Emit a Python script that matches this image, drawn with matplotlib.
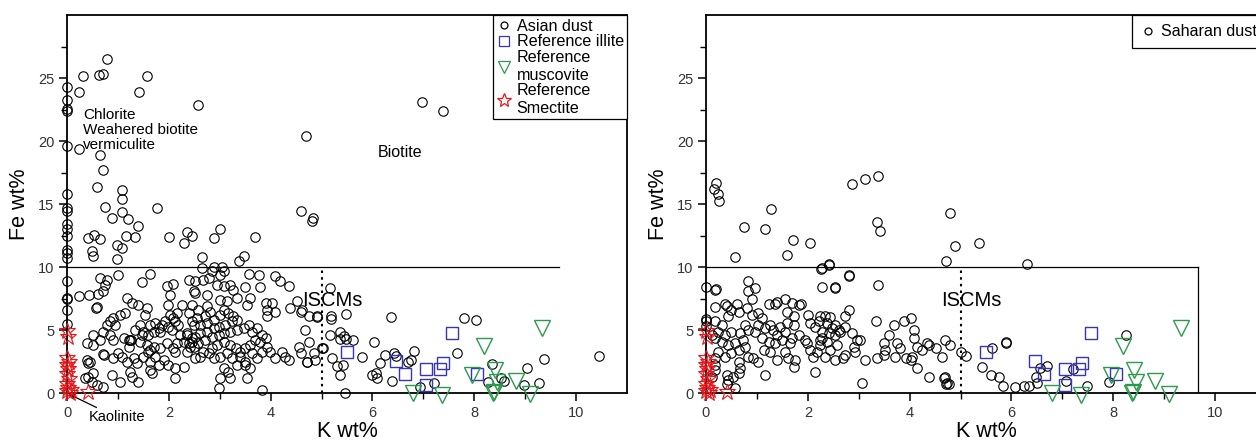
import matplotlib

matplotlib.use("Agg")
import matplotlib.pyplot as plt
import numpy as np
from matplotlib.lines import Line2D

plt.rcParams["font.family"] = ["Liberation Sans", "DejaVu Sans"]

# ---- Asian dust (left panel), (K wt%, Fe wt%) ----
asian_dust = [
    # upper part, Fe > 10
    (0.0, 24.3), (0.0, 23.3), (0.0, 22.6), (0.0, 22.4), (0.24, 23.9), (0.31, 25.2),
    (0.62, 25.3), (0.71, 25.35), (0.78, 26.5), (1.42, 23.9), (1.57, 25.2), (2.58, 22.9),
    (4.70, 20.4), (6.97, 23.1), (7.38, 22.4), (0.0, 19.6), (0.24, 19.35), (0.64, 18.9),
    (0.71, 17.7), (0.58, 16.4), (1.08, 16.1), (1.08, 15.4), (1.09, 14.4), (0.75, 14.8),
    (1.77, 14.7), (0.0, 15.8), (0.0, 14.7), (0.0, 14.5), (4.59, 14.45), (4.84, 13.9),
    (0.88, 13.9), (1.19, 13.8), (0.0, 13.4), (0.0, 13.0), (0.0, 12.46), (0.0, 11.4),
    (0.0, 11.15), (0.0, 10.7), (0.41, 12.3), (0.54, 12.6), (0.65, 12.25), (0.49, 11.3),
    (0.52, 10.9), (1.40, 13.3), (0.98, 11.8), (1.08, 11.5), (1.16, 12.45), (1.34, 12.4),
    (0.98, 10.66), (2.01, 12.4), (2.29, 11.9), (2.35, 12.8), (2.45, 12.46), (2.88, 12.3),
    (3.01, 13.0), (3.70, 12.4), (4.81, 13.7), (2.65, 10.8), (3.37, 10.5), (3.47, 10.9),
    # K < 2.5, Fe < 10
    (0.0, 8.88), (0.0, 7.6), (0.0, 7.45), (0.0, 6.6), (0.0, 5.5),
    (0.65, 9.15), (0.78, 9.01), (0.75, 8.62), (1.01, 9.36), (1.47, 8.83), (1.63, 9.46),
    (1.96, 8.48), (2.08, 8.67), (2.03, 7.82), (2.39, 9.01), (2.49, 8.09),
    (0.24, 7.69), (0.44, 7.77), (0.60, 7.87), (0.71, 8.09), (0.57, 6.76), (0.58, 6.85),
    (1.17, 7.55), (1.27, 7.16), (1.40, 7.02), (1.57, 6.76), (1.53, 6.23),
    (1.14, 6.36), (1.04, 6.23), (0.91, 5.96), (0.85, 5.70), (0.95, 5.43), (0.78, 5.43),
    (1.99, 7.02), (2.03, 6.23), (2.09, 5.96), (2.16, 6.36), (2.26, 7.02), (2.39, 6.36),
    (2.45, 5.70), (1.63, 5.43), (1.73, 5.57), (1.80, 5.17), (1.86, 5.43), (1.93, 5.70),
    (1.99, 5.30), (2.06, 5.03), (2.13, 5.70), (2.19, 5.43), (1.83, 4.90), (1.70, 4.90),
    (1.60, 4.64), (1.44, 5.43), (1.34, 5.03), (1.50, 4.90), (2.36, 4.64), (2.45, 4.37),
    (2.39, 3.97), (2.49, 3.71), (2.36, 3.31), (2.16, 3.97), (2.09, 3.58), (1.96, 3.97),
    (1.83, 3.58), (1.70, 3.71), (1.60, 3.31), (1.24, 4.24), (1.26, 4.20), (0.72, 3.05),
    (0.70, 3.08), (0.91, 2.78), (1.01, 3.18), (1.08, 2.91), (1.18, 2.51), (1.31, 2.78),
    (1.37, 2.38), (1.50, 2.91), (1.63, 2.51), (1.73, 2.91), (1.80, 2.25), (1.90, 2.65),
    (1.99, 2.25), (2.13, 3.31), (2.13, 1.98), (2.13, 1.19), (2.29, 2.12), (1.24, 1.72),
    (1.27, 1.32), (1.40, 0.92), (1.04, 0.92), (0.88, 1.45), (1.63, 1.85), (1.67, 1.59),
    (0.35, 1.19), (0.42, 1.32), (0.52, 1.59), (0.49, 0.92), (0.58, 0.66), (0.71, 0.53),
    (0.39, 2.65), (0.42, 2.38), (0.45, 2.51), (0.39, 3.97), (0.52, 4.64), (0.71, 4.90),
    (0.65, 4.24), (0.52, 3.84), (0.85, 4.64), (0.91, 4.24), (1.11, 4.37), (1.21, 4.24),
    (1.21, 3.71), (1.47, 4.64), (1.44, 4.11), (1.57, 3.84), (1.63, 3.44), (2.22, 4.64),
    (2.29, 4.11), (2.35, 4.77), (2.42, 3.71),
    # 2.4 < K < 5
    (2.65, 9.94), (2.88, 9.99), (3.04, 9.99), (2.85, 9.68), (3.01, 9.41), (3.08, 9.68),
    (2.52, 8.88), (2.68, 9.01), (2.78, 9.15), (2.94, 8.62), (3.08, 8.48), (3.21, 8.62),
    (3.27, 8.22), (3.50, 8.40), (3.80, 8.40), (3.57, 9.46), (3.77, 9.36), (4.09, 9.28),
    (4.19, 8.88), (4.36, 8.48), (2.52, 7.95), (2.75, 7.82), (3.01, 7.42), (3.14, 7.29),
    (3.34, 7.55), (3.60, 7.55), (3.54, 7.02), (3.90, 7.16), (4.03, 7.16), (3.93, 6.63),
    (4.09, 6.44), (3.93, 6.10), (4.39, 6.76), (4.52, 7.29), (4.59, 6.49), (4.75, 6.10),
    (4.91, 6.10), (2.45, 7.02), (2.58, 6.63), (2.75, 6.89), (2.81, 6.49), (2.72, 6.10),
    (2.55, 5.96), (2.49, 5.43), (2.62, 5.43), (2.75, 5.57), (2.88, 5.83), (3.01, 6.23),
    (3.08, 6.63), (3.17, 6.36), (3.27, 6.10), (3.34, 5.83), (3.24, 5.70), (3.11, 5.43),
    (2.98, 5.30), (2.88, 5.17), (2.75, 4.90), (2.62, 4.77), (2.52, 4.50), (2.45, 4.11),
    (2.58, 3.97), (2.72, 4.24), (2.85, 4.50), (2.98, 4.64), (3.08, 4.77), (3.21, 4.90),
    (3.34, 5.03), (3.47, 5.17), (3.57, 5.43), (3.63, 4.90), (3.73, 5.17), (3.83, 4.64),
    (3.90, 4.37), (3.80, 4.11), (3.70, 4.24), (3.60, 3.84), (3.50, 3.58), (3.40, 3.31),
    (3.31, 3.58), (3.21, 3.84), (3.08, 4.11), (2.94, 3.84), (2.85, 3.58), (2.78, 3.18),
    (2.68, 3.31), (2.62, 2.91), (2.52, 2.78), (2.88, 2.78), (3.01, 2.91), (3.14, 3.18),
    (3.24, 2.78), (3.40, 2.91), (3.50, 2.51), (3.63, 3.18), (3.73, 2.78), (3.83, 3.31),
    (3.93, 3.71), (3.08, 1.98), (3.17, 1.72), (3.21, 1.19), (3.01, 1.19), (3.34, 2.25),
    (3.50, 2.25), (3.60, 1.98), (3.54, 1.19), (2.98, 0.39), (3.83, 0.26), (3.99, 3.31),
    (4.09, 2.78), (4.22, 3.31), (4.29, 2.91), (4.36, 2.65), (4.55, 3.71), (4.59, 3.18),
    (4.72, 2.51), (4.88, 2.65), (5.01, 3.58), (4.75, 4.11), (4.68, 5.03),
    # K > 4.5
    (5.16, 8.35), (4.62, 6.63), (4.92, 6.04), (5.18, 6.10), (5.19, 5.89), (5.49, 6.28),
    (6.36, 6.02), (7.80, 5.97), (8.03, 5.83), (5.16, 4.64), (5.37, 4.90), (5.44, 4.51),
    (5.36, 4.29), (5.49, 4.29), (5.62, 4.24), (4.85, 3.23), (4.72, 2.52), (5.03, 3.58),
    (5.21, 2.78), (5.30, 2.17), (5.43, 2.25), (5.36, 1.46), (5.47, 0.05), (5.80, 2.86),
    (6.04, 4.11), (6.14, 2.38), (6.24, 3.05), (6.42, 3.23), (6.46, 2.97), (6.69, 2.52),
    (6.75, 2.65), (6.82, 3.37), (6.39, 1.00), (6.00, 1.46), (6.06, 1.59), (6.08, 1.19),
    (6.94, 0.47), (7.21, 0.85), (7.67, 3.23), (8.34, 2.33), (8.26, 0.92), (8.52, 1.19),
    (8.58, 1.00), (9.04, 1.99), (8.97, 0.66), (9.28, 0.79), (9.36, 2.70), (10.45, 2.97),
]

# ---- Saharan dust (right panel) ----
saharan_dust = [
    (0.20, 16.70), (0.16, 16.22), (0.24, 15.82), (0.26, 15.24), (1.28, 14.66), (2.87, 16.62),
    (3.12, 16.97), (3.37, 17.23), (4.80, 14.31), (0.75, 13.18), (1.15, 13.07), (1.70, 12.2),
    (2.05, 11.93), (0.56, 10.79), (1.60, 10.95), (2.26, 9.89), (2.42, 10.26), (3.36, 13.58),
    (3.41, 12.86), (4.72, 10.47), (4.90, 11.72), (5.37, 11.93), (6.31, 10.26),
    (2.28, 8.46), (3.38, 8.56), (2.80, 9.33), (2.54, 8.35),
    (0.0, 8.43), (0.19, 8.27), (0.0, 5.89), (0.0, 5.7), (0.0, 5.35),
    (0.82, 8.93), (0.97, 8.35), (0.83, 8.09), (0.90, 7.50), (0.17, 8.22),
    (1.23, 7.10), (1.36, 7.10), (1.39, 7.23), (1.56, 7.50), (1.69, 7.16), (1.82, 7.02),
    (1.87, 7.08), (0.17, 6.81), (0.37, 7.08), (0.41, 6.89), (0.60, 7.08), (0.50, 6.63),
    (0.64, 6.44), (0.44, 6.10), (0.31, 5.43), (0.17, 5.70), (0.80, 6.76), (0.90, 6.23),
    (1.03, 6.36), (1.10, 5.96), (1.03, 5.43), (1.16, 5.17), (0.97, 4.90), (0.83, 5.03),
    (0.77, 5.43), (0.67, 4.77), (0.50, 4.90), (0.37, 4.64), (0.24, 4.90), (0.17, 4.37),
    (0.11, 4.64), (1.26, 5.43), (1.32, 5.03), (1.39, 4.64), (1.46, 5.30), (1.56, 4.90),
    (1.59, 6.49), (1.72, 6.10), (1.59, 5.57), (1.72, 5.43), (1.82, 4.64), (1.95, 4.24),
    (1.69, 4.37), (1.65, 3.97), (1.10, 4.37), (1.23, 4.11), (1.36, 3.97), (1.49, 4.24),
    (0.31, 4.11), (0.44, 3.84), (0.57, 3.97), (0.73, 4.24), (0.77, 3.71), (0.64, 3.44),
    (0.50, 3.18), (0.37, 2.91), (0.24, 3.31), (0.17, 2.78), (0.17, 2.25), (0.17, 1.85),
    (0.11, 1.32), (0.83, 2.91), (0.93, 2.78), (1.03, 2.51), (1.13, 3.44), (1.26, 3.31),
    (1.39, 2.65), (0.64, 2.51), (0.67, 1.98), (0.64, 1.59), (0.54, 1.32), (0.44, 1.06),
    (0.41, 1.45), (0.57, 0.45), (0.41, 0.71), (1.16, 1.45), (1.56, 3.31), (1.62, 2.78),
    (1.72, 2.12), (1.75, 2.65), (1.98, 3.97), (2.05, 3.44), (2.11, 2.91), (2.18, 3.31),
    (2.24, 3.84), (2.28, 4.37), (2.01, 6.23), (2.05, 5.57), (2.15, 5.30), (2.21, 5.70),
    (2.15, 1.72),
    (2.41, 10.21), (2.28, 9.94), (2.80, 9.36), (2.54, 8.40), (2.80, 6.63), (2.74, 6.17),
    (2.24, 6.10), (2.34, 6.10), (2.44, 6.02), (2.37, 5.57), (2.54, 5.43), (2.61, 5.03),
    (2.47, 5.17), (2.28, 4.90), (2.41, 4.77), (2.54, 4.64), (2.64, 4.90), (2.74, 5.30),
    (2.87, 4.77), (2.24, 4.24), (2.37, 4.11), (2.57, 3.84), (2.44, 3.44), (2.34, 2.91),
    (2.54, 2.65), (2.70, 2.78), (2.74, 3.04), (2.90, 3.71), (2.97, 4.24), (3.03, 4.24),
    (2.93, 3.31), (3.13, 2.65), (3.33, 5.70), (3.06, 0.79), (3.36, 2.78), (3.49, 3.97),
    (3.52, 3.44), (3.49, 3.04), (3.59, 4.64), (3.69, 5.43), (3.75, 3.97), (3.82, 3.58),
    (3.72, 2.91), (3.88, 5.70), (4.02, 5.96), (4.08, 5.03), (3.92, 2.78), (4.02, 2.65),
    (4.05, 2.91), (4.15, 1.98), (4.08, 4.37), (4.15, 3.71), (4.24, 3.44), (4.34, 3.97),
    (4.38, 3.84), (4.51, 3.58), (4.64, 2.91), (4.38, 1.32), (4.70, 4.24), (4.67, 1.19),
    (4.72, 0.71),
    (4.80, 3.84), (4.70, 1.32), (4.74, 0.79), (4.77, 0.74), (5.00, 3.31), (5.10, 2.97),
    (5.43, 2.12), (5.62, 3.58), (5.59, 1.45), (5.75, 1.32), (5.84, 0.58), (5.89, 4.11),
    (5.90, 3.97), (6.06, 0.48), (6.25, 0.61), (6.35, 0.58), (6.48, 1.32), (6.50, 0.85),
    (6.57, 1.99), (6.69, 2.17), (7.08, 1.01), (7.20, 1.91), (7.49, 0.58), (7.92, 0.87),
    (8.25, 4.64),
]

# ---- reference minerals (same in both panels) ----
illite_k = [5.50, 6.47, 6.63, 7.06, 7.33, 7.38, 7.56, 7.05, 8.05]
illite_fe = [3.31, 2.60, 1.57, 1.92, 1.92, 2.44, 4.77, 0.66, 1.51]

muscovite_k = [6.80, 7.37, 8.20, 9.34, 8.41, 8.45, 8.82, 8.37, 8.38, 9.09, 7.96]
muscovite_fe = [0.02, -0.1, 3.76, 5.17, 1.85, 0.86, 0.99, 0.02, 0.12, -0.05, 1.46]

smectite_k = [0.0, 0.02, 0.0, 0.03, 0.0, 0.02, 0.0, 0.03, 0.0, 0.02, 0.0, 0.05, 0.08, 0.41]
smectite_fe = [4.95, 4.5, 2.8, 2.5, 2.25, 1.9, 1.5, 1.1, 0.75, 0.4, 0.15, 0.05, 0.25, 0.13]

ISCM_BOX_K = 9.67
ISCM_BOX_FE = 10
ISCM_SPLIT_K = 5

BLUE = "#3535b5"
GREEN = "#2b9a4e"
RED = "#e8161b"

FIG_W, FIG_H = 12.56, 4.40
AX_BOTTOM = 46.7 / 440
AX_HEIGHT = 378 / 440
AX_WIDTH = 560 / 1256


def draw_panel(ax, dust, box_side):
    k, fe = zip(*dust)
    ax.plot(k, fe, "o", ls="none", mfc="none", mec="black", ms=6.8, mew=0.8,
            clip_on=False, zorder=3)
    ax.plot(illite_k, illite_fe, "s", ls="none", mfc="none", mec=BLUE, ms=8.5,
            mew=1.0, clip_on=False, zorder=4)
    ax.plot(muscovite_k, muscovite_fe, "v", ls="none", mfc="none", mec=GREEN,
            ms=11, mew=1.0, clip_on=False, zorder=4)
    ax.plot(smectite_k, smectite_fe, "*", ls="none", mfc="none", mec=RED, ms=12,
            mew=0.8, clip_on=False, zorder=5)

    ax.plot([0, ISCM_BOX_K], [ISCM_BOX_FE, ISCM_BOX_FE], color="black", lw=0.9, zorder=2)
    if box_side:
        ax.plot([ISCM_BOX_K, ISCM_BOX_K], [0, ISCM_BOX_FE], color="black", lw=0.9, zorder=2)
    ax.plot([ISCM_SPLIT_K, ISCM_SPLIT_K], [0, ISCM_BOX_FE], color="black", lw=1.5,
            ls=(0, (1.2, 2.0)), zorder=2)
    ax.text(4.62, 7.4, "ISCMs", fontsize=14.5, va="center", ha="left", zorder=6)

    ax.set_xlim(0, 11)
    ax.set_ylim(0, 30)
    ax.set_xticks([0, 2, 4, 6, 8, 10])
    ax.set_xticks([1, 3, 5, 7, 9], minor=True)
    ax.set_yticks([0, 5, 10, 15, 20, 25])
    ax.set_yticks([2.5, 7.5, 12.5, 17.5, 22.5, 27.5], minor=True)
    ax.tick_params(which="major", direction="out", length=6, width=1.1,
                   labelsize=10.5, labelcolor="#333333", pad=3)
    ax.tick_params(which="minor", direction="out", length=4, width=1.0)
    for side in ["left", "right", "top", "bottom"]:
        ax.spines[side].set_linewidth(1.3)
    ax.set_xlabel("K wt%", fontsize=15.5, labelpad=1)
    ax.set_ylabel("Fe wt%", fontsize=15.5, labelpad=6)


fig = plt.figure(figsize=(FIG_W, FIG_H), dpi=100)
ax1 = fig.add_axes([67 / 1256, AX_BOTTOM, AX_WIDTH, AX_HEIGHT])
ax2 = fig.add_axes([706 / 1256, AX_BOTTOM, AX_WIDTH, AX_HEIGHT])

draw_panel(ax1, asian_dust, box_side=False)
draw_panel(ax2, saharan_dust, box_side=True)

# left panel labels
ax1.text(0.31, 20.9, "Chlorite\nWeahered biotite\nvermiculite", fontsize=11,
         va="center", ha="left", linespacing=1.05, zorder=6)
ax1.text(6.1, 19.1, "Biotite", fontsize=11.5, va="center", ha="left")
ax1.annotate("Kaolinite", xy=(0.03, -0.05), xytext=(0.42, -1.9), fontsize=10.5,
             va="center", ha="left", annotation_clip=False,
             arrowprops=dict(arrowstyle="-|>", color="black", lw=0.9,
                             mutation_scale=8, shrinkA=0, shrinkB=0))


def marker_handle(marker, color, ms):
    return Line2D([], [], marker=marker, ls="none", mfc="none", mec=color, ms=ms, mew=0.9)


legend_style = dict(loc="upper right", borderaxespad=0, fancybox=False,
                    edgecolor="black", framealpha=1, fontsize=11.6,
                    handlelength=0.9, handletextpad=0.35)

leg1 = ax1.legend(
    handles=[
        marker_handle("o", "black", 5),
        marker_handle("s", BLUE, 7),
        marker_handle("v", GREEN, 9),
        marker_handle("*", RED, 10),
    ],
    labels=["Asian dust", "Reference illite", "Reference\nmuscovite", "Reference\nSmectite"],
    labelspacing=0.05, borderpad=0.2, **legend_style,
)
leg1.get_frame().set_linewidth(0.9)

leg2 = ax2.legend(
    handles=[marker_handle("o", "black", 5)],
    labels=["Saharan dust"],
    borderpad=0.55, **legend_style,
)
leg2.get_frame().set_linewidth(0.9)

fig.savefig("out.png", dpi=100)
